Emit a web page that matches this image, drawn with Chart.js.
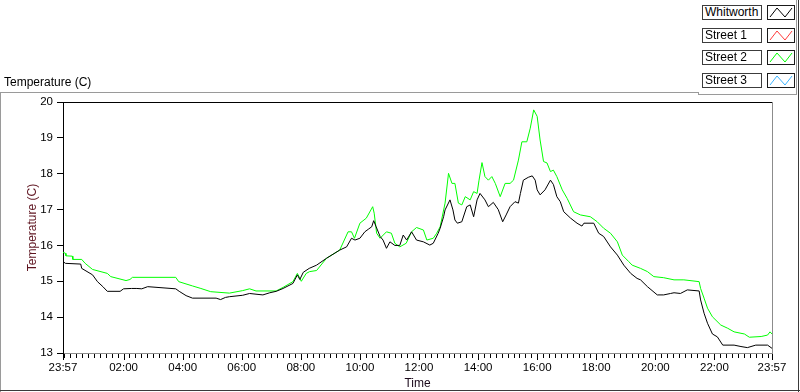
<!DOCTYPE html>
<html>
<head>
<meta charset="utf-8">
<script src="https://cdn.jsdelivr.net/npm/chart.js@4.4.0/dist/chart.umd.min.js"></script>
<style>
html,body{margin:0;padding:0;background:#fff;}
#wrap{position:relative;width:800px;height:392px;overflow:hidden;font-family:"Liberation Sans",Arial,sans-serif;}
#c{position:absolute;left:0;top:0;}
.ln{position:absolute;}
#ttl{position:absolute;left:4px;top:75px;font-size:12px;line-height:14px;color:#000;white-space:nowrap;}
.lab{position:absolute;box-sizing:border-box;border:1px solid #3c3c3c;background:#fff;font-size:12px;line-height:13px;padding-left:2px;color:#000;white-space:nowrap;overflow:hidden;}
.ico{position:absolute;box-sizing:border-box;border:1px solid #1a1a1a;background:#fff;}
.ico svg{position:absolute;left:0;top:0;}
</style>
</head>
<body>
<div id="wrap">
  <canvas id="c" width="800" height="392"></canvas>
  <div id="ttl">Temperature (C)</div>
  <div class="ln" style="left:0;top:92px;width:698px;height:1px;background:#9a9a9a"></div>
  <div class="ln" style="left:0;top:92px;width:1px;height:300px;background:#9a9a9a"></div>
  <div class="ln" style="left:0;top:390px;width:800px;height:1px;background:#3a3a3a"></div>
  <div class="ln" style="left:798px;top:0;width:1px;height:392px;background:#3a3a3a"></div>
  <div class="ln" style="left:698px;top:92px;width:1px;height:3px;background:#9a9a9a"></div>
  <div class="ln" style="left:698px;top:94px;width:99px;height:1px;background:#9a9a9a"></div>
  <div class="ln" style="left:796px;top:0;width:1px;height:95px;background:#9a9a9a"></div>
  <div id="legend"></div>
</div>
<script>
// ---- data (minutes after 23:57 start, temperature in C) ----
const whitworthMin = [0,5,36,38,60,70,81,90,116,123,139,150,160,172,229,236,250,263,311,320,330,338,365,379,392,406,420,433,447,467,476,481,488,500,515,535,562,576,586,593,603,613,620,627,631,636,644,650,657,664,674,684,691,698,708,718,732,745,752,762,766,773,776,786,792,796,801,810,820,827,834,841,847,857,864,874,884,893,900,908,918,925,929,935,945,953,959,963,969,979,990,996,1003,1010,1017,1031,1044,1054,1058,1078,1088,1098,1112,1126,1139,1153,1166,1173,1187,1207,1220,1234,1241,1254,1268,1292,1295,1302,1309,1319,1329,1340,1363,1377,1390,1407,1431,1440];
const whitworthTemp = [15.55,15.5,15.48,15.36,15.18,14.99,14.85,14.72,14.72,14.79,14.8,14.8,14.79,14.85,14.79,14.72,14.6,14.53,14.53,14.49,14.55,14.57,14.61,14.66,14.64,14.62,14.68,14.72,14.8,14.94,15.18,15.05,15.25,15.36,15.45,15.64,15.87,15.96,16.2,16.15,16.2,16.38,16.45,16.52,16.69,16.52,16.25,16.15,15.92,16.1,16.0,16.0,16.29,16.15,16.38,16.15,16.1,16.01,16.06,16.34,16.48,16.8,16.99,17.27,16.99,16.71,16.62,16.66,17.08,17.13,16.8,17.27,17.45,17.27,17.08,17.2,17.0,16.66,16.85,17.08,17.22,17.18,17.45,17.82,17.9,17.94,17.82,17.55,17.41,17.55,17.82,17.7,17.36,17.22,16.94,16.76,16.62,16.54,16.62,16.62,16.34,16.25,15.96,15.73,15.45,15.22,15.08,15.04,14.85,14.62,14.62,14.66,14.68,14.66,14.76,14.73,14.48,14.11,13.83,13.53,13.45,13.22,13.22,13.18,13.15,13.22,13.22,13.13];

const street1Min = [];
const street1Temp = [];

const street2Min = [0,5,6,19,20,38,45,60,90,97,128,136,141,229,235,263,280,300,338,365,379,392,433,447,467,476,484,494,501,515,535,562,579,586,592,603,616,629,632,637,644,657,667,674,684,697,708,718,732,739,752,759,766,776,783,790,796,803,810,817,827,834,841,845,851,857,864,871,878,888,898,908,915,925,932,942,949,956,963,969,976,983,990,996,1003,1014,1024,1037,1051,1071,1085,1098,1112,1126,1136,1149,1156,1173,1187,1200,1220,1241,1261,1292,1295,1302,1309,1319,1336,1350,1363,1384,1394,1418,1431,1436,1440];
const street2Temp = [15.81,15.78,15.71,15.7,15.61,15.61,15.5,15.33,15.22,15.13,15.02,15.05,15.11,15.11,14.99,14.87,14.8,14.71,14.67,14.74,14.79,14.73,14.73,14.83,14.99,15.22,15.0,15.22,15.27,15.3,15.64,15.87,16.38,16.38,16.2,16.62,16.76,17.08,16.9,16.34,16.2,16.38,16.34,16.06,15.96,16.06,16.38,16.5,16.43,16.15,16.2,16.34,16.52,17.18,18.01,17.73,17.73,17.18,17.13,17.36,17.27,17.5,17.45,17.82,18.31,17.92,17.82,17.92,17.73,17.36,17.73,17.73,17.82,18.38,18.89,18.89,19.27,19.78,19.6,18.94,18.34,18.3,18.06,18.1,17.92,17.55,17.31,16.94,16.85,16.8,16.66,16.48,16.34,16.1,15.73,15.55,15.45,15.36,15.27,15.13,15.1,15.04,15.04,14.99,14.8,14.53,14.25,14.01,13.78,13.69,13.59,13.53,13.44,13.46,13.5,13.59,13.53];

const street3Min = [];
const street3Temp = [];

const seriesNames = ["Whitworth","Street 1","Street 2","Street 3"];
const timeTickLabels = ["23:57","02:00","04:00","06:00","08:00","10:00","12:00","14:00","16:00","18:00","20:00","22:00","23:57"];
const tempTicks = [13,14,15,16,17,18,19,20];
const minorStepMin = 12;

// ---- helpers ----
const START = 23*60+57;
function labelToMinute(lbl, i){
  if (i === timeTickLabels.length-1) return 1440;
  const [h,m] = lbl.split(':').map(Number);
  return ((h*60+m) - START + 1440) % 1440;
}
const majorMinutes = timeTickLabels.map(labelToMinute);
const pts = (xs, ys) => xs.map((x,i)=>({x:x, y:ys[i]}));
const FONT = '"Liberation Sans", Arial, sans-serif';

const colors = ['#000000','#ff3b3b','#00ff00','#3cb4ff'];
const seriesData = [
  pts(whitworthMin, whitworthTemp),
  pts(street1Min, street1Temp),
  pts(street2Min, street2Temp),
  pts(street3Min, street3Temp)
];

// draws the axis tick marks of the two bottom time scales at their own tick values
const timeTickMarks = {
  id: 'timeTickMarks',
  afterDraw(chart) {
    const ctx = chart.ctx;
    const base = chart.chartArea.bottom;
    ctx.save();
    ctx.strokeStyle = '#000';
    ctx.lineWidth = 1;
    [['x', 5], ['xMajor', 7]].forEach(([id, len]) => {
      const s = chart.scales[id];
      s.ticks.forEach(t => {
        const px = Math.round(s.getPixelForValue(t.value)) + 0.5;
        ctx.beginPath();
        ctx.moveTo(px, base + 1);
        ctx.lineTo(px, base + len);
        ctx.stroke();
      });
    });
    ctx.restore();
  }
};

const chart = new Chart(document.getElementById('c'), {
  type: 'line',
  data: {
    datasets: seriesNames.map((n,i)=>({
      label: n, data: seriesData[i], borderColor: colors[i], backgroundColor: colors[i],
      borderWidth: 1, pointRadius: 0, tension: 0, fill: false, xAxisID: 'x', yAxisID: 'y'
    }))
  },
  plugins: [timeTickMarks],
  options: {
    responsive: false,
    animation: false,
    devicePixelRatio: 1,
    layout: { padding: { left: 0, top: 102, right: 28, bottom: 0 } },
    plugins: { legend: { display: false }, tooltip: { enabled: false } },
    scales: {
      x: {
        type: 'linear', position: 'bottom', min: 0, max: 1440, weight: 0,
        afterBuildTicks: s => {
          const t = [{value: 0}];
          for (let m = 3; m < 1440; m += minorStepMin) t.push({value: m});
          t.push({value: 1440});
          s.ticks = t;
        },
        afterFit: s => { s.height = 0; },
        ticks: { display: false },
        grid: {
          drawOnChartArea: true, drawTicks: false, lineWidth: 1,
          color: c => (c.tick && c.tick.value === 1440) ? '#8c8c8c' : 'rgba(0,0,0,0)'
        },
        border: { display: true, color: '#8c8c8c', width: 1 }
      },
      xMajor: {
        type: 'linear', position: 'bottom', min: 0, max: 1440, weight: 1,
        afterBuildTicks: s => { s.ticks = majorMinutes.map(v => ({value: v})); },
        afterFit: s => { s.height = 39; },
        ticks: {
          autoSkip: false, maxRotation: 0, padding: 8, color: '#000',
          font: { family: FONT, size: 11.5 },
          callback: (v, i) => timeTickLabels[i]
        },
        grid: { drawOnChartArea: false, drawTicks: false },
        border: { display: false },
        title: { display: true, text: 'Time', color: '#1c0a1c', font: { family: FONT, size: 12 }, padding: { top: 0, bottom: 1 } }
      },
      y: {
        type: 'linear', position: 'left', min: 13, max: 20,
        afterBuildTicks: s => { s.ticks = tempTicks.map(v => ({value: v})); },
        afterFit: s => { s.width = 63; },
        ticks: { padding: 4, color: '#000', font: { family: FONT, size: 11.5 } },
        grid: {
          drawOnChartArea: true, tickLength: 6, tickColor: '#000',
          color: c => (c.tick && c.tick.value === 20) ? '#000' : 'rgba(0,0,0,0)'
        },
        border: { display: true, color: '#000', width: 1 },
        title: { display: true, text: 'Temperature (C)', color: '#5e1420', font: { family: FONT, size: 12 }, padding: { top: 25, bottom: 0 } }
      }
    }
  }
});

// ---- legend built from the chart's datasets ----
const lg = document.getElementById('legend');
chart.data.datasets.forEach((ds, i) => {
  const top = 5 + i * 22.6;
  const lab = document.createElement('div');
  lab.className = 'lab';
  lab.style.cssText = `left:702px;top:${top}px;width:60px;height:15px;`;
  lab.textContent = ds.label;
  lg.appendChild(lab);
  const ico = document.createElement('div');
  ico.className = 'ico';
  ico.style.cssText = `left:767px;top:${top}px;width:28px;height:15px;`;
  ico.innerHTML = `<svg width="26" height="13" viewBox="0 0 26 13"><polyline points="2,11 9,2 17,11 24,2" fill="none" stroke="${ds.borderColor}" stroke-width="1"/></svg>`;
  lg.appendChild(ico);
});
</script>
</body>
</html>
